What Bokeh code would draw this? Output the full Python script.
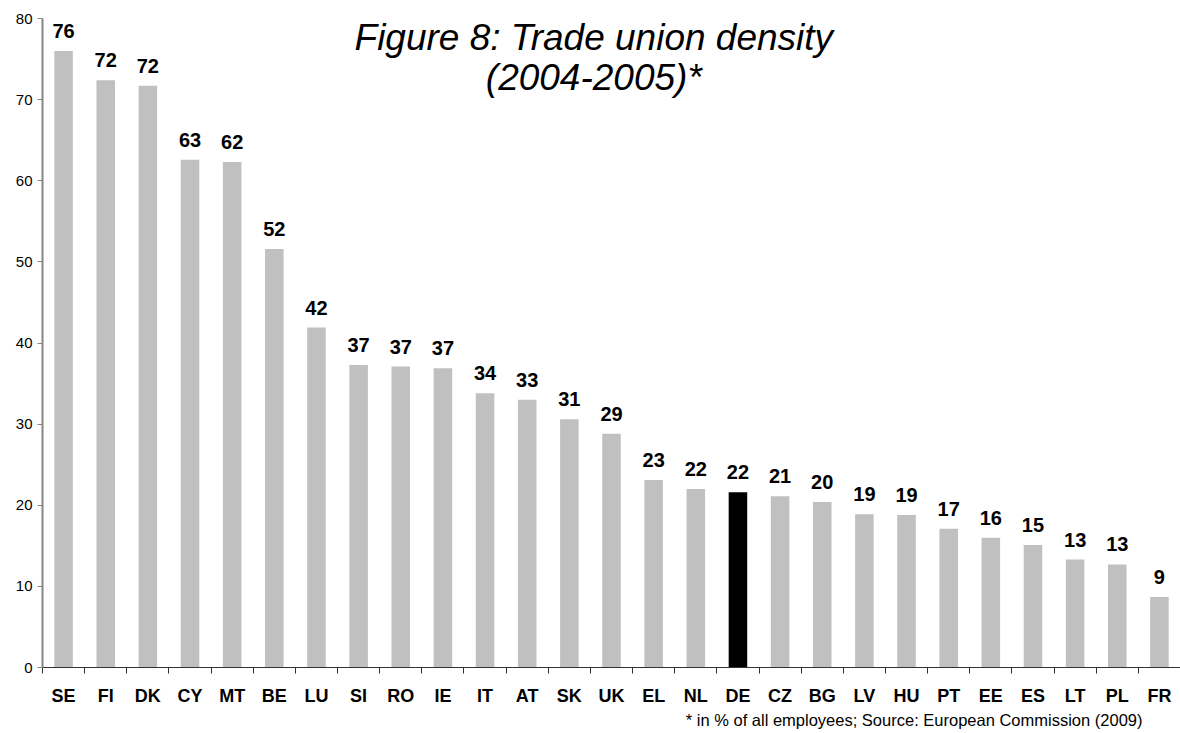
from bokeh.plotting import figure
from bokeh.models import FixedTicker, Range1d, Title, Label, ColumnDataSource
from bokeh.core.properties import value
from bokeh.embed import file_html
from bokeh.resources import INLINE

countries = ["SE", "FI", "DK", "CY", "MT", "BE", "LU", "SI", "RO", "IE", "IT", "AT", "SK", "UK",
             "EL", "NL", "DE", "CZ", "BG", "LV", "HU", "PT", "EE", "ES", "LT", "PL", "FR"]
density = [76.0, 72.4, 71.7, 62.6, 62.3, 51.6, 41.9, 37.3, 37.1, 36.9, 33.8, 33.0, 30.6, 28.8,
           23.1, 22.0, 21.6, 21.1, 20.4, 18.9, 18.8, 17.1, 16.0, 15.1, 13.3, 12.7, 8.7]
highlight = "DE"
y_ticks = [0, 10, 20, 30, 40, 50, 60, 70, 80]

FONT = "Liberation Sans"

xs = [i + 0.5 for i in range(len(countries))]
labels = [str(int(v + 0.5)) for v in density]
colors = ["#000000" if c == highlight else "#C0C0C0" for c in countries]
src = ColumnDataSource(dict(x=xs, v=density, lbl=labels, color=colors, c=countries))

p = figure(width=1180, height=731,
           x_range=Range1d(0, len(countries)), y_range=Range1d(0, 80),
           output_backend="svg", toolbar_location=None,
           min_border_left=42, min_border_right=0, min_border_top=18, min_border_bottom=64)
p.grid.visible = False
p.outline_line_color = None
p.background_fill_color = "white"
p.border_fill_color = "white"

p.vbar(x="x", top="v", width=0.44, fill_color="color", line_color=None, source=src)
p.text(x="x", y="v", text="lbl", source=src,
       text_font=value(FONT), text_font_style="bold", text_font_size="20px",
       text_align="center", text_baseline="alphabetic", y_offset=-20, text_color="black")

# y axis
ya = p.yaxis[0]
ya.ticker = FixedTicker(ticks=y_ticks)
ya.axis_line_color = "#868686"
ya.axis_line_width = 2
ya.major_tick_line_color = "#868686"
ya.major_tick_out = 5
ya.major_tick_in = 0
ya.minor_tick_line_color = None
ya.major_label_text_font = FONT
ya.major_label_text_font_size = "15px"
ya.major_label_text_color = "black"
ya.major_label_standoff = 5

# x axis: labels at centres, ticks at category boundaries
xa = p.xaxis[0]
xa.ticker = FixedTicker(ticks=xs, minor_ticks=list(range(len(countries) + 1)))
xa.major_label_overrides = {x: c for x, c in zip(xs, countries)}
xa.axis_line_color = "#333333"
xa.major_tick_line_color = None
xa.major_tick_out = 0
xa.major_tick_in = 0
xa.minor_tick_line_color = "#333333"
xa.minor_tick_out = 6
xa.minor_tick_in = 0
xa.major_label_text_font = FONT
xa.major_label_text_font_style = "bold"
xa.major_label_text_font_size = "18px"
xa.major_label_text_color = "black"
xa.major_label_standoff = 12

# title (two centred lines inside the plot)
p.add_layout(Label(x=13.08, y=77.7, text="Figure 8: Trade union density",
                   text_font=FONT, text_font_style="italic", text_font_size="37px",
                   text_align="center", text_baseline="alphabetic", text_color="black"))
p.add_layout(Label(x=13.08, y=72.75, text="(2004-2005)*",
                   text_font=FONT, text_font_style="italic", text_font_size="37px",
                   text_align="center", text_baseline="alphabetic", text_color="black"))

# footnote
p.add_layout(Title(text="* in % of all employees; Source: European Commission (2009)",
                   align="right", text_font=FONT, text_font_style="normal",
                   text_font_size="16.5px", text_color="black", offset=38, standoff=0), "below")

open("out.html", "w").write(file_html(p, INLINE))
